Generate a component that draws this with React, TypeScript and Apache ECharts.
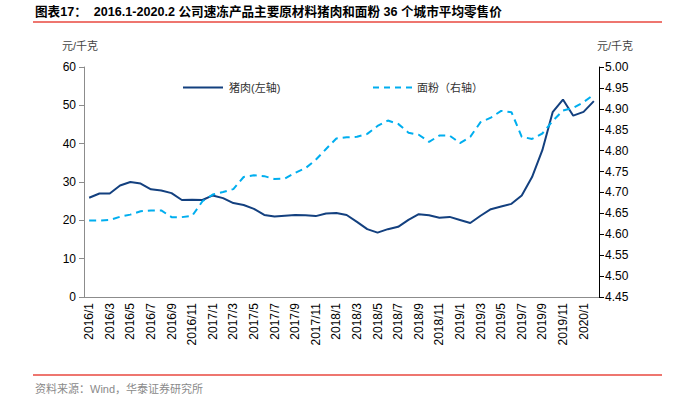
import React, { useEffect, useRef } from "react";
import * as echarts from "echarts";

const categories: string[] = [];
for (let y = 2016; y <= 2020; y++) {
  for (let m = 1; m <= 12; m++) {
    if (y === 2020 && m > 2) break;
    categories.push(`${y}/${m}`);
  }
}

const porkValues = [
  25.9, 27.0, 27.0, 29.1, 30.0, 29.6, 28.1, 27.8, 27.1, 25.3,
  25.4, 25.3, 26.5, 25.8, 24.5, 24.0, 23.0, 21.4, 21.0, 21.2,
  21.4, 21.3, 21.1, 21.8, 21.9, 21.4, 19.6, 17.7, 16.8, 17.7,
  18.3, 20.1, 21.6, 21.3, 20.7, 20.9, 20.1, 19.3, 21.2, 22.9,
  23.6, 24.3, 26.5, 31.3, 38.3, 48.2, 51.5, 47.3, 48.3, 51.1,
];

const flourValues = [
  4.633, 4.633, 4.634, 4.642, 4.647, 4.655, 4.657, 4.657, 4.641, 4.641,
  4.644, 4.679, 4.695, 4.701, 4.708, 4.737, 4.741, 4.739, 4.732, 4.733,
  4.747, 4.758, 4.778, 4.804, 4.829, 4.832, 4.833, 4.840, 4.859, 4.872,
  4.864, 4.843, 4.838, 4.821, 4.836, 4.836, 4.818, 4.833, 4.868, 4.879,
  4.895, 4.892, 4.833, 4.828, 4.841, 4.871, 4.896, 4.902, 4.916, 4.934,
];

const porkName = "猪肉(左轴)";
const flourName = "面粉（右轴）";
const titleText = "图表17：  2016.1-2020.2 公司速冻产品主要原材料猪肉和面粉 36 个城市平均零售价";
const sourceText = "资料来源：Wind，华泰证券研究所";
const unitText = "元/千克";

export default function App() {
  const ref = useRef<HTMLDivElement>(null);
  useEffect(() => {
    if (!ref.current) return;
    const chart = echarts.init(ref.current, null, { renderer: "svg" });
    const font = "'Liberation Sans', Arial, 'Noto Sans CJK SC', sans-serif";
    chart.setOption({
      animation: false,
      backgroundColor: "#ffffff",
      textStyle: { fontFamily: font },
      grid: { left: 84, right: 77, top: 67, bottom: 100 },
      legend: [
        {
          data: [{ name: porkName, icon: "path://M0,0H40V2H0Z" }],
          left: 178,
          top: 77,
          itemWidth: 40,
          itemHeight: 2,
          itemGap: 4,
          textStyle: { fontSize: 11, color: "#333", fontFamily: font, padding: [0, 0, 0, 1] },
        },
        {
          data: [
            {
              name: flourName,
              icon: "path://M0,0H6V2H0Z M11,0H17V2H11Z M22,0H28V2H22Z M33,0H39V2H33Z",
            },
          ],
          left: 368,
          top: 77,
          itemWidth: 39,
          itemHeight: 2,
          textStyle: { fontSize: 11, color: "#333", fontFamily: font, padding: [0, 0, 0, 0] },
        },
      ],
      xAxis: {
        type: "category",
        data: categories,
        boundaryGap: true,
        axisLine: { lineStyle: { color: "#8c8c8c", width: 1 } },
        axisTick: { interval: 1, length: 5, lineStyle: { color: "#8c8c8c" } },
        axisLabel: {
          interval: 1,
          rotate: 90,
          fontSize: 12,
          color: "#000",
          margin: 6,
          fontFamily: font,
        },
        splitLine: { show: false },
      },
      yAxis: [
        {
          type: "value",
          min: 0,
          max: 60,
          interval: 10,
          position: "left",
          axisLine: { show: true, lineStyle: { color: "#8c8c8c" } },
          axisTick: { show: true, length: 5, lineStyle: { color: "#8c8c8c" } },
          axisLabel: { fontSize: 12, color: "#000", margin: 8, fontFamily: font },
          splitLine: { show: false },
        },
        {
          type: "value",
          min: 4.45,
          max: 5.0,
          interval: 0.05,
          position: "right",
          axisLine: { show: true, lineStyle: { color: "#000" } },
          axisTick: { show: true, length: 5, lineStyle: { color: "#000" } },
          axisLabel: {
            fontSize: 12,
            color: "#000",
            margin: 6,
            fontFamily: font,
            formatter: (v: number) => v.toFixed(2),
          },
          splitLine: { show: false },
        },
      ],
      series: [
        {
          name: porkName,
          type: "line",
          yAxisIndex: 0,
          data: porkValues,
          symbol: "none",
          showSymbol: false,
          lineStyle: { color: "#13407f", width: 2 },
          itemStyle: { color: "#13407f" },
        },
        {
          name: flourName,
          type: "line",
          yAxisIndex: 1,
          data: flourValues,
          symbol: "none",
          showSymbol: false,
          lineStyle: { color: "#00aeef", width: 2, type: [7, 5] },
          itemStyle: { color: "#00aeef" },
        },
      ],
      graphic: [
        {
          type: "text",
          left: 35,
          top: 6,
          style: {
            text: titleText,
            font: `bold 12.6px ${font}`,
            fill: "#000",
          },
        },
        {
          type: "line",
          shape: { x1: 33, y1: 22, x2: 662, y2: 22 },
          style: { stroke: "#e8493f", lineWidth: 1.5 },
        },
        {
          type: "text",
          left: 62,
          top: 40,
          style: { text: unitText, font: `11px ${font}`, fill: "#444" },
        },
        {
          type: "text",
          left: 597,
          top: 40,
          style: { text: unitText, font: `11px ${font}`, fill: "#444" },
        },
        {
          type: "line",
          shape: { x1: 33, y1: 375, x2: 662, y2: 375 },
          style: { stroke: "#e8493f", lineWidth: 1.5 },
        },
        {
          type: "text",
          left: 35,
          top: 383,
          style: { text: sourceText, font: `11px ${font}`, fill: "#8a8a8a" },
        },
      ],
    });
    return () => chart.dispose();
  }, []);
  return (
    <div
      ref={ref}
      style={{ position: "absolute", left: 0, top: 0, width: 676, height: 397 }}
    />
  );
}
